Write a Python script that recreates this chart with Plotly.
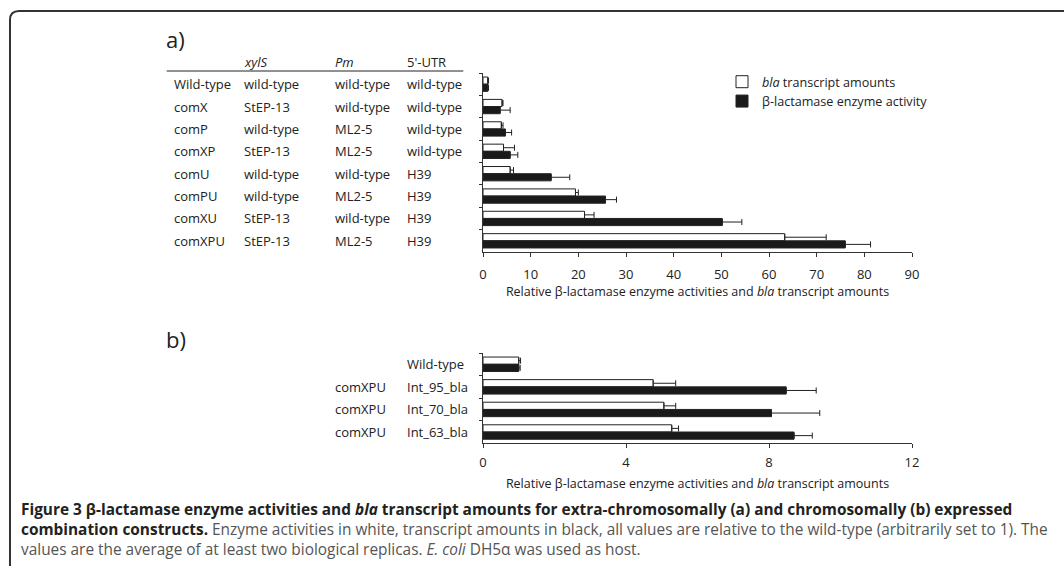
import plotly.graph_objects as go

# ---- panel a: extra-chromosomal constructs ----
constructs_a = ["Wild-type", "comX", "comP", "comXP", "comU", "comPU", "comXU", "comXPU"]
xyls_a = ["wild-type", "StEP-13", "wild-type", "StEP-13", "wild-type", "wild-type", "StEP-13", "StEP-13"]
pm_a = ["wild-type", "wild-type", "ML2-5", "ML2-5", "wild-type", "ML2-5", "wild-type", "ML2-5"]
utr_a = ["wild-type", "wild-type", "wild-type", "wild-type", "H39", "H39", "H39", "H39"]
transcript_a = [1.0, 4.0, 3.85, 4.3, 5.7, 19.4, 21.3, 63.3]
transcript_a_err = [0.15, 0.2, 0.35, 2.3, 0.7, 0.6, 2.0, 8.7]
enzyme_a = [1.0, 3.6, 4.7, 5.7, 14.3, 25.7, 50.2, 76.0]
enzyme_a_err = [0.15, 2.1, 1.3, 1.6, 3.9, 2.3, 4.1, 5.3]

# ---- panel b: chromosomal integrants ----
constructs_b = ["Wild-type", "Int_95_bla", "Int_70_bla", "Int_63_bla"]
strain_b = ["", "comXPU", "comXPU", "comXPU"]
transcript_b = [1.0, 4.76, 5.06, 5.28]
transcript_b_err = [0.05, 0.63, 0.33, 0.19]
enzyme_b = [1.0, 8.48, 8.07, 8.70]
enzyme_b_err = [0.04, 0.84, 1.35, 0.51]

W, H = 1064, 566
FONT = "Open Sans"
INK = "#222222"
GREY = "#555555"


def px_x(x):
    return x / W


def px_y(y):
    return 1 - y / H


def bar_pair(names, trans, trans_err, enz, enz_err, yaxis, xaxis, legend):
    common = dict(orientation="h", y=names, xaxis=xaxis, yaxis=yaxis)
    white = go.Bar(
        x=trans, name="<i>bla</i> transcript amounts", showlegend=legend,
        marker=dict(color="white", line=dict(color=INK, width=1)),
        error_x=dict(type="data", symmetric=False, array=trans_err,
                     arrayminus=[0] * len(trans), color=INK, thickness=1, width=3),
        **common,
    )
    black = go.Bar(
        x=enz, name="β-lactamase enzyme activity", showlegend=legend,
        marker=dict(color="#1a1a1a", line=dict(color=INK, width=1)),
        error_x=dict(type="data", symmetric=False, array=enz_err,
                     arrayminus=[0] * len(enz), color=INK, thickness=1, width=3),
        **common,
    )
    return [white, black]


fig = go.Figure()
for t in bar_pair(constructs_a, transcript_a, transcript_a_err, enzyme_a, enzyme_a_err, "y", "x", True):
    fig.add_trace(t)
for t in bar_pair(constructs_b, transcript_b, transcript_b_err, enzyme_b, enzyme_b_err, "y2", "x2", False):
    fig.add_trace(t)

x_dom = [px_x(483), px_x(912)]
axis_title = "Relative β-lactamase enzyme activities and <i>bla</i> transcript amounts"
title_font = dict(family=FONT, size=12.5, color=INK)
xaxis_common = dict(
    showline=True, linecolor="#333333", linewidth=1, ticks="outside", ticklen=4,
    tickcolor="#333333", showgrid=False, zeroline=False,
    tickfont=dict(family=FONT, size=13, color=INK), automargin=False,
)
yaxis_common = dict(
    showline=True, linecolor="#333333", linewidth=1, ticks="outside", ticklen=3,
    tickcolor="#333333", tickson="boundaries", showticklabels=False,
    showgrid=False, zeroline=False, autorange="reversed", automargin=False,
)

fig.update_layout(
    width=W, height=H, margin=dict(l=0, r=0, t=0, b=0),
    paper_bgcolor="white", plot_bgcolor="white",
    barmode="group", bargap=0.36, bargroupgap=0,
    font=dict(family=FONT, size=13, color=INK),
    xaxis=dict(domain=x_dom, anchor="y", range=[0, 90], dtick=10, ticklabelstandoff=6,
               title=dict(text=axis_title, standoff=4, font=title_font),
               **xaxis_common),
    yaxis=dict(domain=[px_y(252), px_y(73)], anchor="x", **yaxis_common),
    xaxis2=dict(domain=x_dom, anchor="y2", range=[0, 12], dtick=4, ticklabelstandoff=3,
                title=dict(text=axis_title, standoff=9, font=title_font),
                **xaxis_common),
    yaxis2=dict(domain=[px_y(443.3), px_y(353)], anchor="x2", **yaxis_common),
    legend=dict(x=px_x(722), y=px_y(67), xanchor="left", yanchor="top",
                bgcolor="rgba(0,0,0,0)", font=dict(family=FONT, size=12.6, color=INK),
                traceorder="normal", tracegroupgap=0),
)

ann = []


def text(x, y, s, size=13, yref="paper", color=INK, xanchor="left", yanchor="middle"):
    ann.append(dict(x=x, y=y, xref="paper", yref=yref, text=s, showarrow=False,
                    xanchor=xanchor, yanchor=yanchor, align="left",
                    font=dict(family=FONT, size=size, color=color)))


# panel letters
text(px_x(164), px_y(39), "a)", size=22)
text(px_x(164), px_y(339), "b)", size=22)

# construct table for panel a
col_x = [172, 242, 333, 405]
text(px_x(col_x[1]), px_y(61.7), "<i>xylS</i>")
text(px_x(col_x[2]), px_y(61.7), "<i>Pm</i>")
text(px_x(col_x[3]), px_y(61.7), "5'-UTR")
for name, a, b, c in zip(constructs_a, xyls_a, pm_a, utr_a):
    for cx, s in zip(col_x, [name, a, b, c]):
        text(px_x(cx), name, s, yref="y")

# row labels for panel b
for name, strain in zip(constructs_b, strain_b):
    if strain:
        text(px_x(333), name, strain, yref="y2")
    text(px_x(405), name, name, yref="y2")

# figure caption, one multi-line block
caption = (
    "<b>Figure 3 β-lactamase enzyme activities and <i>bla</i> transcript amounts for "
    "extra-chromosomally (a) and chromosomally (b) expressed</b><br>"
    "<b>combination constructs.</b><span style='color:#555555'> Enzyme activities in white, "
    "transcript amounts in black, all values are relative to the wild-type "
    "(arbitrarily set to 1). The</span><br>"
    "<span style='color:#555555'>values are the average of at least two biological "
    "replicas. <i>E. coli</i> DH5α was used as host.</span>"
)
text(px_x(19), px_y(529), caption, size=15.4)

fig.update_layout(annotations=ann)

# header rule of the table and the rounded frame
shapes = [
    dict(type="line", xref="paper", yref="paper",
         x0=px_x(166.7), x1=px_x(463.3), y0=px_y(71), y1=px_y(71),
         line=dict(color=INK, width=1)),
    dict(type="path", xref="paper", yref="paper",
         path=(f"M {px_x(10)},{px_y(566)} L {px_x(10)},{px_y(20)} "
               f"Q {px_x(10)},{px_y(11)} {px_x(19)},{px_y(11)} L {px_x(1064)},{px_y(11)}"),
         line=dict(color="#333333", width=2)),
]
fig.update_layout(shapes=shapes)

fig.write_html("out.html")
